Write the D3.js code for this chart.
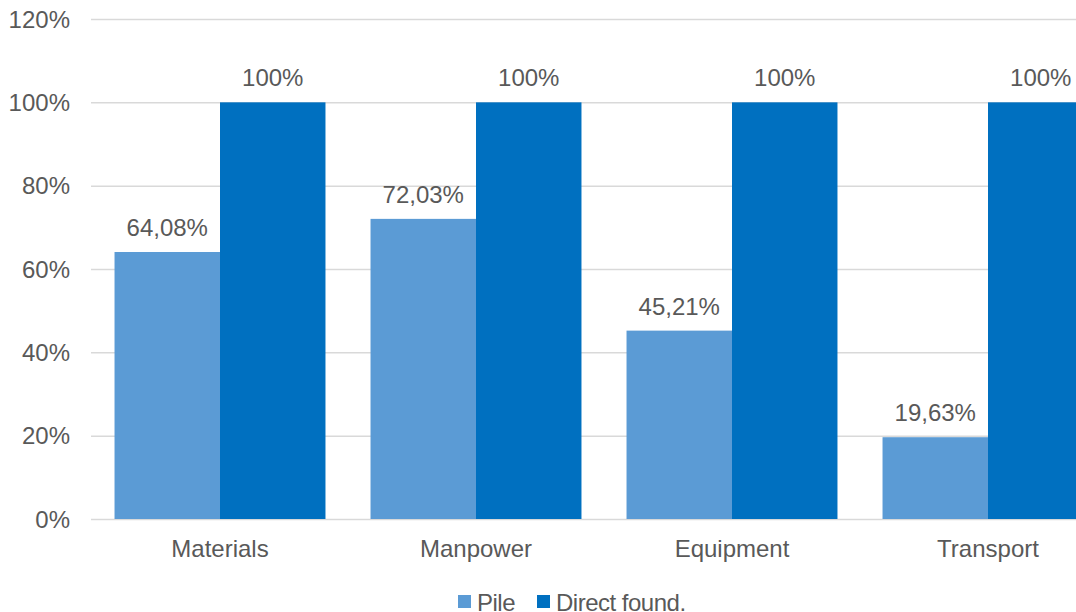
<!DOCTYPE html>
<html>
<head>
<meta charset="utf-8">
<script src="https://cdn.jsdelivr.net/npm/d3@7/dist/d3.min.js"></script>
<style>
  html, body { margin: 0; padding: 0; background: #fff; overflow: hidden; }
  svg { display: block; font-family: "Liberation Sans", Arial, sans-serif; }
</style>
</head>
<body>
<svg id="chart" width="1076" height="612"></svg>
<script>
const categories = ["Materials", "Manpower", "Equipment", "Transport"];
const seriesNames = ["Pile", "Direct found."];
const pileValues = [64.08, 72.03, 45.21, 19.63];
const directValues = [100, 100, 100, 100];
const pileLabels = ["64,08%", "72,03%", "45,21%", "19,63%"];
const directLabels = ["100%", "100%", "100%", "100%"];
const yTicks = [0, 20, 40, 60, 80, 100, 120];
const colors = ["#5B9BD5", "#0070C0"];

const svg = d3.select("#chart");
const W = 1076;
const plotLeft = 92, plotRight = 1116, plotTop = 19, plotBottom = 519;
const textColor = "#595959";
const fs = 24;

const x = d3.scaleBand().domain(categories).range([plotLeft, plotRight])
  .paddingInner(0.176).paddingOuter(0.088);
const sub = d3.scaleBand().domain(seriesNames).range([0, x.bandwidth()]);
const y = d3.scaleLinear().domain([0, 120]).range([plotBottom, plotTop]);

// gridlines
svg.append("g").selectAll("line").data(yTicks).join("line")
  .attr("x1", plotLeft - 1).attr("x2", W)
  .attr("y1", d => y(d) + 0.5).attr("y2", d => y(d) + 0.5)
  .attr("stroke", "#D9D9D9").attr("stroke-width", 1.5);

// y tick labels
svg.append("g").selectAll("text").data(yTicks).join("text")
  .attr("x", 70).attr("y", d => y(d)).attr("dy", "0.36em")
  .attr("text-anchor", "end").attr("fill", textColor).attr("font-size", fs)
  .text(d => d + "%");

const series = [
  { name: seriesNames[0], values: pileValues, labels: pileLabels, color: colors[0] },
  { name: seriesNames[1], values: directValues, labels: directLabels, color: colors[1] }
];

series.forEach(s => {
  const g = svg.append("g");
  g.selectAll("rect").data(categories).join("rect")
    .attr("x", (c) => x(c) + sub(s.name))
    .attr("width", sub.bandwidth())
    .attr("y", (c, i) => y(s.values[i]))
    .attr("height", (c, i) => y(0) - y(s.values[i]))
    .attr("fill", s.color);
  g.selectAll("text").data(categories).join("text")
    .attr("x", (c) => x(c) + sub(s.name) + sub.bandwidth() / 2)
    .attr("y", (c, i) => y(s.values[i]) - 16)
    .attr("text-anchor", "middle").attr("fill", textColor).attr("font-size", fs)
    .text((c, i) => s.labels[i]);
});

// category labels
svg.append("g").selectAll("text").data(categories).join("text")
  .attr("x", c => x(c) + x.bandwidth() / 2)
  .attr("y", 557)
  .attr("text-anchor", "middle").attr("fill", textColor).attr("font-size", fs)
  .text(c => c);

// legend
const legend = svg.append("g");
const legendItems = [
  { name: seriesNames[0], color: colors[0], x: 458 },
  { name: seriesNames[1], color: colors[1], x: 537 }
];
legendItems.forEach(it => {
  legend.append("rect").attr("x", it.x).attr("y", 595).attr("width", 13).attr("height", 13)
    .attr("fill", it.color);
  legend.append("text").attr("x", it.x + 19).attr("y", 611)
    .attr("fill", textColor).attr("font-size", fs).attr("letter-spacing", -0.5)
    .text(it.name);
});
</script>
</body>
</html>
